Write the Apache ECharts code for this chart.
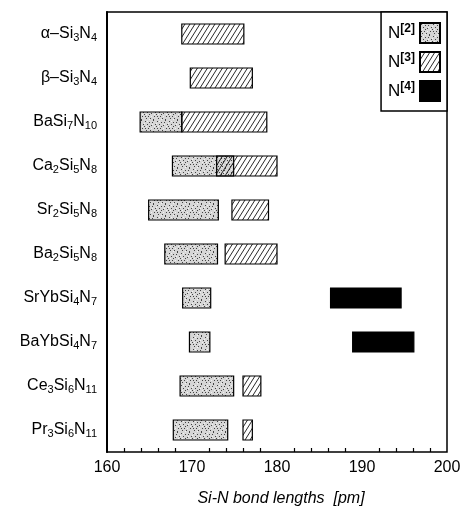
<!DOCTYPE html>
<html>
<head>
<meta charset="utf-8">
<script src="https://cdn.jsdelivr.net/npm/echarts@6/dist/echarts.min.js"></script>
<style>
html, body { margin: 0; padding: 0; background: #fff; }
#main { width: 464px; height: 509px; }
</style>
</head>
<body>
<div id="main"></div>
<script>
var compounds = ['α–Si3N4', 'β–Si3N4', 'BaSi7N10', 'Ca2Si5N8', 'Sr2Si5N8',
                 'Ba2Si5N8', 'SrYbSi4N7', 'BaYbSi4N7', 'Ce3Si6N11', 'Pr3Si6N11'];
// [compound index, shortest, longest] Si-N distance in pm
var n2Ranges = [[2, 163.9, 168.8], [3, 167.7, 174.9], [4, 164.9, 173.1], [5, 166.8, 173.0],
                [6, 168.9, 172.2], [7, 169.7, 172.1], [8, 168.6, 174.9], [9, 167.8, 174.2]];
var n3Ranges = [[0, 168.8, 176.1], [1, 169.8, 177.1], [2, 168.8, 178.8], [3, 172.9, 180.0],
                [4, 174.7, 179.0], [5, 173.9, 180.0], [8, 176.0, 178.1], [9, 176.0, 177.1]];
var n4Ranges = [[6, 186.3, 194.6], [7, 188.9, 196.1]];
var xTicks = [160, 170, 180, 190, 200];

var font = '"Liberation Sans", Arial, sans-serif';

// hatching "/" with transparent background
function hatchPattern() {
    var w = 5, h = 8;
    var c = document.createElement('canvas');
    c.width = w; c.height = h;
    var g = c.getContext('2d');
    g.strokeStyle = '#111';
    g.lineWidth = 0.9;
    g.beginPath();
    g.moveTo(0, h); g.lineTo(w, 0);
    g.moveTo(-w, h); g.lineTo(0, 0);
    g.moveTo(w, h); g.lineTo(2 * w, 0);
    g.stroke();
    return { image: c, repeat: 'repeat' };
}

// grey speckle
function stipplePattern() {
    var c = document.createElement('canvas');
    c.width = 12; c.height = 12;
    var g = c.getContext('2d');
    g.fillStyle = '#d6d6d6';
    g.fillRect(0, 0, 12, 12);
    g.fillStyle = '#444';
    var dots = [[1, 1], [5, 2], [9, 0], [3, 4], [7, 5], [0, 6], [4, 8], [10, 8], [2, 10],
                [6, 10], [11, 4], [8, 2], [5, 6], [9, 11], [1, 8]];
    dots.forEach(function (d) { g.fillRect(d[0], d[1], 1, 1); });
    g.fillStyle = '#f2f2f2';
    var light = [[3, 1], [7, 8], [0, 3], [10, 6], [5, 11], [8, 4], [2, 6]];
    light.forEach(function (d) { g.fillRect(d[0], d[1], 1, 1); });
    return { image: c, repeat: 'repeat' };
}

var fills = [stipplePattern(), hatchPattern(), '#000'];

function renderRange(params, api) {
    var cat = api.value(0);
    var a = api.coord([api.value(1), cat]);
    var b = api.coord([api.value(2), cat]);
    var h = 20;
    return {
        type: 'rect',
        shape: { x: a[0], y: a[1] - h / 2, width: b[0] - a[0], height: h },
        style: { fill: fills[params.seriesIndex], stroke: '#000', lineWidth: 1.2 }
    };
}

function formula(s) {
    return s.replace(/(\d+)/g, '{sub|$1}');
}

var myChart = echarts.init(document.getElementById('main'));
option = {
    backgroundColor: '#fff',
    textStyle: { fontFamily: font },
    animation: false,
    grid: {
        left: 107, right: 17, top: 12, bottom: 57,
        outerBoundsMode: 'none',
        show: true, borderColor: '#000', borderWidth: 1.5
    },
    legend: {
        orient: 'vertical',
        right: 17,
        top: 12,
        align: 'right',
        itemWidth: 20,
        itemHeight: 20,
        itemGap: 7,
        padding: [10, 6, 9, 7],
        borderColor: '#000',
        borderWidth: 1.5,
        backgroundColor: '#fff',
        borderRadius: 0,
        icon: 'rect',
        selectedMode: false,
        formatter: function (name) {
            return 'N{sup|' + name.slice(1) + '}';
        },
        textStyle: {
            fontSize: 17, color: '#000', fontFamily: font,
            rich: {
                sup: { fontSize: 12, fontWeight: 'bold', color: '#000', fontFamily: font, padding: [0, 0, 8, 0] }
            }
        },
        data: ['N[2]', 'N[3]', 'N[4]']
    },
    xAxis: {
        type: 'value',
        min: xTicks[0],
        max: xTicks[xTicks.length - 1],
        interval: 10,
        name: 'Si-N bond lengths  [pm]',
        nameLocation: 'middle',
        nameGap: 39,
        nameTextStyle: { fontSize: 16, fontStyle: 'italic', color: '#000', fontFamily: font, padding: [0, 0, 0, 8] },
        axisLine: { lineStyle: { color: '#000', width: 2 } },
        axisTick: { inside: true, length: 7, lineStyle: { color: '#000', width: 1.5 } },
        minorTick: { show: true, splitNumber: 5, length: 4, lineStyle: { color: '#000', width: 1.2 } },
        splitLine: { show: false },
        axisLabel: { fontSize: 16, color: '#000', margin: 8, fontFamily: font }
    },
    yAxis: {
        type: 'category',
        inverse: true,
        data: compounds,
        axisLine: { lineStyle: { color: '#000', width: 2 } },
        axisTick: { alignWithLabel: true, length: 6, lineStyle: { color: '#000', width: 1.5 } },
        axisLabel: {
            margin: 10,
            color: '#000',
            fontSize: 16,
            fontFamily: font,
            formatter: formula,
            rich: {
                sub: { fontSize: 11, color: '#000', fontFamily: font, padding: [8, 0, 0, 0] }
            }
        }
    },
    series: [
        {
            name: 'N[2]', type: 'custom', renderItem: renderRange,
            itemStyle: { color: fills[0], borderColor: '#000', borderWidth: 1 },
            encode: { x: [1, 2], y: 0 }, data: n2Ranges
        },
        {
            name: 'N[3]', type: 'custom', renderItem: renderRange,
            itemStyle: { color: fills[1], borderColor: '#000', borderWidth: 1 },
            encode: { x: [1, 2], y: 0 }, data: n3Ranges
        },
        {
            name: 'N[4]', type: 'custom', renderItem: renderRange,
            itemStyle: { color: fills[2], borderColor: '#000', borderWidth: 1 },
            encode: { x: [1, 2], y: 0 }, data: n4Ranges
        }
    ]
};

myChart.setOption(option);
</script>
</body>
</html>
